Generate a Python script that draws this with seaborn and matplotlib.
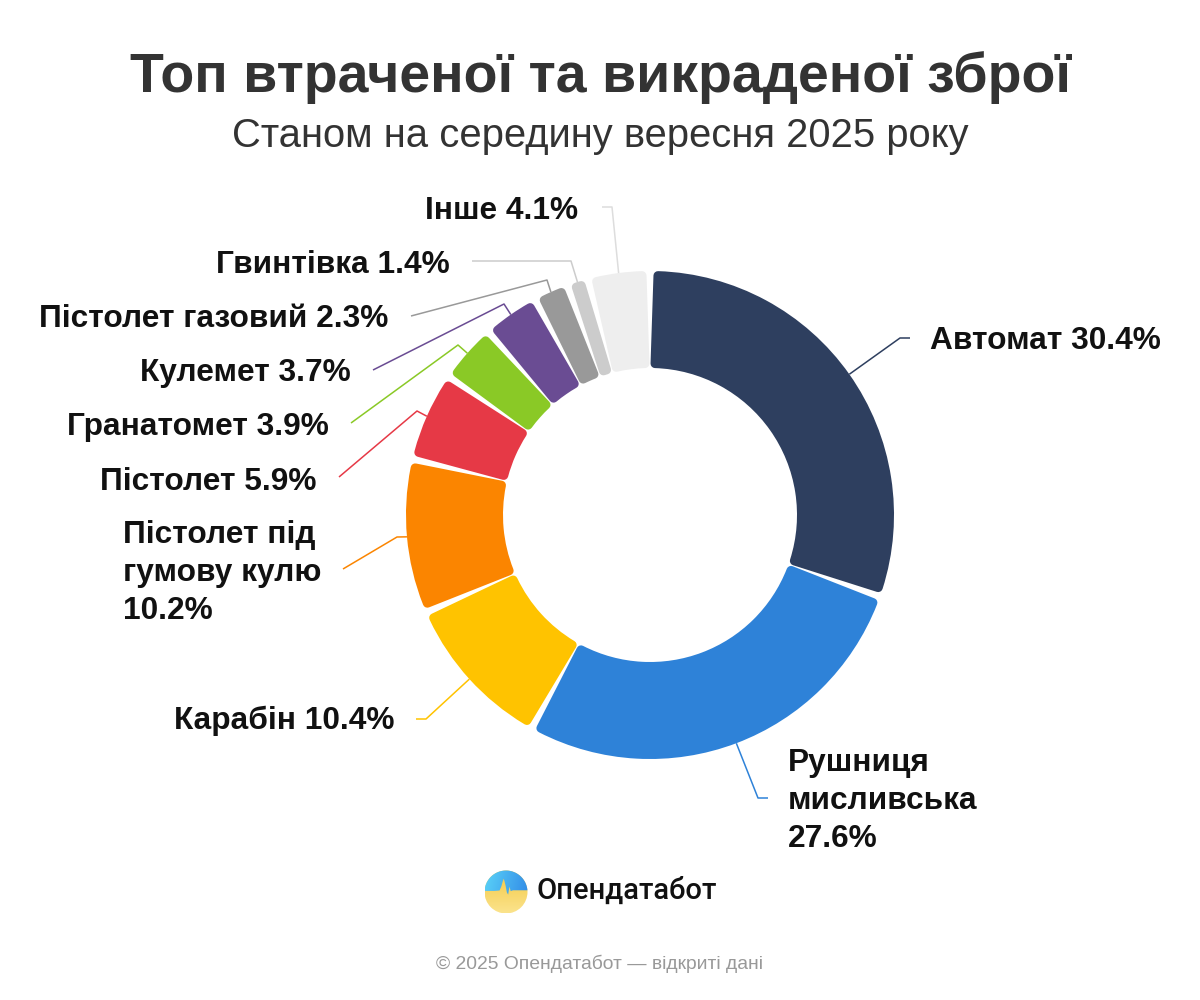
import numpy as np
import matplotlib
matplotlib.use("Agg")
import matplotlib.pyplot as plt
import matplotlib.patches as mpatches
import seaborn as sns

# data
categories = ["Автомат", "Рушниця\nмисливська", "Карабін", "Пістолет під\nгумову кулю",
              "Пістолет", "Гранатомет", "Кулемет", "Пістолет газовий", "Гвинтівка", "Інше"]
shares = [30.4, 27.6, 10.4, 10.2, 5.9, 3.9, 3.7, 2.3, 1.4, 4.1]
colors = ["#2e3f5f", "#2e82d8", "#ffc300", "#fb8500", "#e63946",
          "#8ac926", "#6a4c93", "#999999", "#cccccc", "#eeeeee"]
line_colors = colors[:-1] + ["#dddddd"]

title = "Топ втраченої та викраденої зброї"
subtitle = "Станом на середину вересня 2025 року"
brand = "Опендатабот"
footer = "© 2025 Опендатабот — відкриті дані"

# layout (image pixels, y down)
W, H = 1200, 1000
CX, CY, R_OUT, R_IN = 650, 515, 244, 147
label_pos = [(930, 341, "left"), (788, 801, "left"), (395, 721, "right"), (123, 573, "left"),
             (317, 482, "right"), (329, 427, "right"), (351, 373, "right"), (388, 319, "right"),
             (450, 265, "right"), (578, 211, "right")]
connectors = [[(900, 338), (910, 338)], [(758, 798), (768, 798)], [(426, 719), (416, 719)],
              [(397, 537), (343, 569)], [(417, 411), (339, 477)], [(458, 345), (351, 423)],
              [(504, 304), (373, 370)], [(547, 280), (411, 316)], [(571, 261), (472, 261)],
              [(612, 207), (602, 207)]]


def px(x, y):
    return x, H - y


sns.set_theme(style="white")
plt.rcParams["font.family"] = ["Liberation Sans", "Arial", "DejaVu Sans"]

fig = plt.figure(figsize=(12, 10), dpi=100)
fig.patch.set_facecolor("white")
ax = fig.add_axes([0, 0, 1, 1])

wedges, _ = ax.pie(shares, colors=sns.color_palette(colors), startangle=90, counterclock=False,
                   radius=R_OUT, center=px(CX, CY),
                   wedgeprops=dict(width=R_OUT - R_IN, linewidth=0))

# rounded corners + gaps: shrink each wedge and stroke it with its own colour
L, GAP = 9, 4
rm = (R_OUT + R_IN) / 2
d = np.degrees((GAP / 2 + L / 2) / rm)
for w in wedges:
    t1, t2 = w.theta1, w.theta2
    w.set_theta1(t1 + d)
    w.set_theta2(t2 - d)
    w.set_radius(R_OUT - L / 2)
    w.set_width(R_OUT - R_IN - L)
    w.set_edgecolor(w.get_facecolor())
    w.set_linewidth(L * 0.72)
    w.set_joinstyle("round")

# labels and connectors
for w, name, v, (lx, ly, ha), pts, lc in zip(wedges, categories, shares, label_pos, connectors, line_colors):
    mid = np.radians((w.theta1 + w.theta2) / 2)
    sx = CX + R_OUT * np.cos(mid)
    sy = CY - R_OUT * np.sin(mid)
    xs = [sx] + [p[0] for p in pts]
    ys = [H - sy] + [H - p[1] for p in pts]
    ax.plot(xs, ys, color=lc, lw=1.1, solid_capstyle="butt")
    sep = "\n" if "\n" in name else " "
    ax.text(*px(lx, ly), f"{name}{sep}{v}%", ha=ha, va="center", fontsize=22.8,
            fontweight="bold", color="#111111", linespacing=1.36)

# titles
ax.text(*px(600, 78), title, ha="center", va="center", fontsize=40, fontweight="bold", color="#333333")
ax.text(*px(600, 136), subtitle, ha="center", va="center", fontsize=28.8, color="#333333")

# brand logo: yellow lower part, blue sky with a spike
lcx, lcy = px(506, 892)
lr = 21.5
circ = mpatches.Circle((lcx, lcy), lr, facecolor="none", edgecolor="none")
ax.add_patch(circ)
ext = (lcx - lr, lcx + lr, lcy - lr, lcy + lr)
ygrad = np.linspace(0, 1, 64).reshape(-1, 1)
yimg = ax.imshow(ygrad, extent=ext, origin="lower", aspect="auto", zorder=3,
                 cmap=sns.blend_palette(["#fbe38c", "#f3c842"], as_cmap=True))
yimg.set_clip_path(circ)

wave_x = np.array([-0.55, -0.3, -0.22, -0.15, -0.11, -0.07, -0.02, 0.04, 0.1, 0.16, 0.22, 0.32, 0.5])
wave_y = np.array([0.05, 0.07, 0.25, 0.5, 0.62, 0.5, 0.3, -0.02, -0.12, 0.25, 0.04, 0.08, 0.08])
a_r = np.arcsin(0.08)
a_l = np.pi - np.arcsin(0.05)
arc = np.linspace(a_r, a_l, 40)
top_x = np.concatenate([[-np.cos(np.arcsin(0.05))], wave_x, [np.cos(a_r)], np.cos(arc)])
top_y = np.concatenate([[0.05], wave_y, [0.08], np.sin(arc)])
top = mpatches.Polygon(np.column_stack([lcx + lr * top_x, lcy + lr * top_y]), closed=True,
                       facecolor="none", edgecolor="none")
ax.add_patch(top)
bx, by = np.meshgrid(np.linspace(0, 1, 64), np.linspace(0, 1, 64))
bimg = ax.imshow(bx * 0.8 + (1 - by) * 0.2, extent=ext, origin="lower", aspect="auto", zorder=4,
                 cmap=sns.blend_palette(["#5ad2f8", "#2f86e6"], as_cmap=True))
bimg.set_clip_path(top)

ax.text(*px(536, 891), brand, ha="left", va="center", fontsize=21, fontweight="medium",
        family=["Roboto", "DejaVu Sans"], color="#111111")

ax.text(*px(600, 964), footer, ha="center", va="center", fontsize=13.9, color="#999999")

ax.set_xlim(0, W)
ax.set_ylim(0, H)
ax.set_aspect("equal")
ax.axis("off")

fig.savefig("out.png", dpi=100, facecolor="white")
